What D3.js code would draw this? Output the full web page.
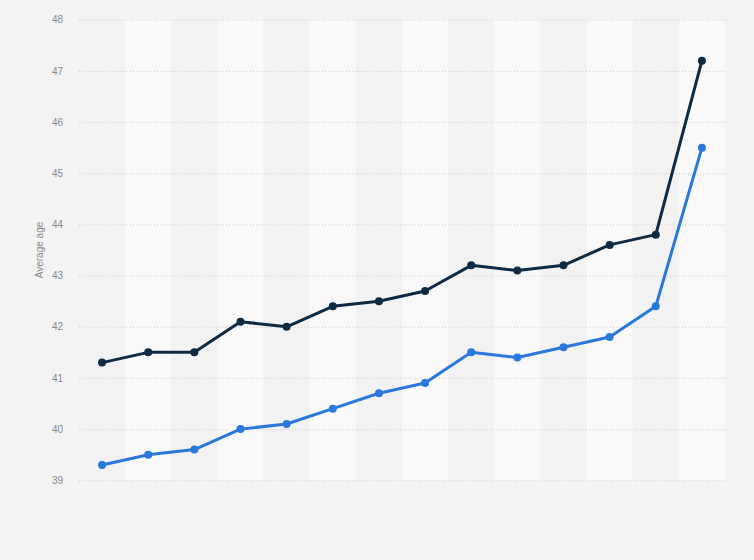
<!DOCTYPE html>
<html><head><meta charset="utf-8">
<script src="https://cdn.jsdelivr.net/npm/d3@7"></script>
<style>html,body{margin:0;padding:0;background:#f3f3f3;}svg{display:block;}</style>
</head><body><div id="chart"></div>
<script>
const categories = ["1","2","3","4","5","6","7","8","9","10","11","12","13","14"];
const seriesDark = [41.3,41.5,41.5,42.1,42.0,42.4,42.5,42.7,43.2,43.1,43.2,43.6,43.8,47.2];
const seriesBlue = [39.3,39.5,39.6,40.0,40.1,40.4,40.7,40.9,41.5,41.4,41.6,41.8,42.4,45.5];
const yTicks = [39,40,41,42,43,44,45,46,47,48];
const yTitle = "Average age";

const W = 754, H = 560;
const m = {left:79, right:29, top:20, bottom:80};
const svg = d3.select("#chart").append("svg").attr("width",W).attr("height",H);
svg.append("rect").attr("width",W).attr("height",H).attr("fill","#f3f3f3");

const x = d3.scaleBand().domain(categories).range([m.left, W-m.right]);
const y = d3.scaleLinear().domain([39,48]).range([480.3, 19.7]);

// column bands
svg.append("g").selectAll("rect").data(categories).join("rect")
  .attr("x", d => x(d)).attr("width", x.bandwidth())
  .attr("y", y(48)).attr("height", y(39)-y(48))
  .attr("fill", (d,i) => i%2 ? "#f9f9f9" : "#f2f2f2");

// gridlines + tick labels via axis
const yAxis = d3.axisLeft(y).tickValues(yTicks).tickSize(-(W-m.right-m.left)).tickPadding(16).tickFormat(d3.format("d"));
const ga = svg.append("g").attr("transform",`translate(${m.left},0)`).call(yAxis);
ga.select(".domain").remove();
ga.selectAll(".tick line").attr("stroke","#cfcfcf").attr("stroke-dasharray","1,2");
ga.selectAll(".tick text").attr("fill","#8a8a8a").attr("font-family","Arial, 'Liberation Sans', sans-serif").attr("font-size","10px");

svg.append("text").attr("transform",`translate(43,${(y(48)+y(39))/2}) rotate(-90)`)
  .attr("text-anchor","middle").attr("fill","#8a8a8a")
  .attr("font-family","Arial, 'Liberation Sans', sans-serif").attr("font-size","10px").text(yTitle);

const cx = d => x(d) + x.bandwidth()/2;
function drawSeries(vals, color){
  const line = d3.line().x((v,i)=>cx(categories[i])).y(v=>y(v));
  svg.append("path").datum(vals).attr("d",line).attr("fill","none")
    .attr("stroke",color).attr("stroke-width",3).attr("stroke-linejoin","round");
  svg.append("g").selectAll("circle").data(vals).join("circle")
    .attr("cx",(v,i)=>cx(categories[i])).attr("cy",v=>y(v)).attr("r",4).attr("fill",color);
}
drawSeries(seriesBlue, "#2a78dc");
drawSeries(seriesDark, "#0f2a43");
</script></body></html>
